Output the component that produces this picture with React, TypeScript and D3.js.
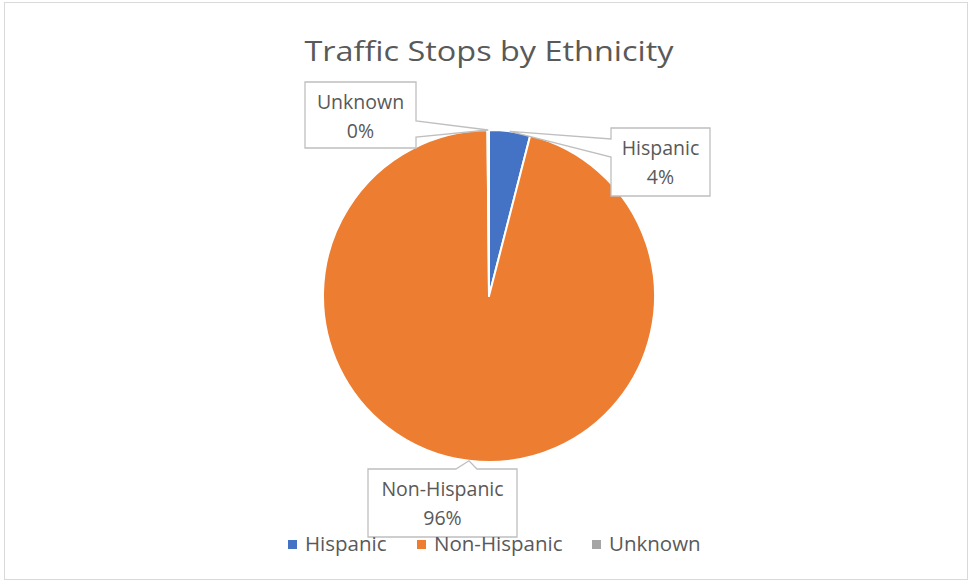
import React from "react";
import * as d3 from "d3";

const categories = ["Hispanic", "Non-Hispanic", "Unknown"];
const values = [4.0, 95.85, 0.15];
const pctLabels = ["4%", "96%", "0%"];
const colors = ["#4472C4", "#ED7D31", "#A5A5A5"];
const title = "Traffic Stops by Ethnicity";

const W = 972;
const H = 583;
const cx = 489;
const cy = 296;
const R = 166;

// label box geometry relative to pie center (layout only)
const labelBoxes = [
  { dx: 171.5, dy: -134, w: 99, h: 68, side: "left" },
  { dx: -46.5, dy: 207, w: 149, h: 68, side: "top" },
  { dx: -128.5, dy: -181, w: 111, h: 66, side: "right" },
];

function calloutPath(x: number, y: number, w: number, h: number, side: string, px: number, py: number) {
  const x2 = x + w, y2 = y + h;
  if (side === "left") {
    const a = y + 11, b = y + 29;
    return `M${x},${y}H${x2}V${y2}H${x}V${b}L${px},${py}L${x},${a}Z`;
  }
  if (side === "right") {
    const a = y + 39, b = y + 55;
    return `M${x},${y}H${x2}V${a}L${px},${py}L${x2},${b}V${y2}H${x}Z`;
  }
  const m = px;
  return `M${x},${y}H${m - 13}L${px},${py}L${m + 8},${y}H${x2}V${y2}H${x}Z`;
}

export default function App() {
  const pie = d3.pie<number>().sort(null).value((d) => d);
  const arcs = pie(values);
  const arc = d3.arc<d3.PieArcDatum<number>>().innerRadius(0).outerRadius(R);

  const legendX = [288, 417, 592];

  return (
    <svg
      width={W}
      height={H}
      style={{ position: "absolute", left: 0, top: 0, fontFamily: "'Open Sans', sans-serif" }}
    >
      <rect x={0} y={0} width={W} height={H} fill="#fff" />
      <rect x={4.5} y={2.5} width={963} height={577} fill="#fff" stroke="#d9d9d9" strokeWidth={1} />
      <text
        x={cx}
        y={61}
        textAnchor="middle"
        fontSize={27}
        fill="#595959"
        textLength={369}
        lengthAdjust="spacingAndGlyphs"
      >
        {title}
      </text>
      <g transform={`translate(${cx},${cy})`}>
        {arcs.map((a, i) => (
          <path key={i} d={arc(a) || ""} fill={colors[i]} stroke="#fff" strokeWidth={2} strokeLinejoin="round" />
        ))}
      </g>
      {arcs.map((a, i) => {
        const mid = (a.startAngle + a.endAngle) / 2;
        const px = cx + Math.sin(mid) * R;
        const py = cy - Math.cos(mid) * R;
        const b = labelBoxes[i];
        const bx = cx + b.dx - b.w / 2;
        const by = cy + b.dy - b.h / 2;
        return (
          <g key={"l" + i}>
            <path
              d={calloutPath(bx, by, b.w, b.h, b.side, px, py)}
              fill="#fff"
              stroke="#bfbfbf"
              strokeWidth={1.3}
            />
            <text x={bx + b.w / 2} y={by + 27} textAnchor="middle" fontSize={19.5} fill="#595959">
              {categories[i]}
            </text>
            <text x={bx + b.w / 2} y={by + 56} textAnchor="middle" fontSize={19.5} fill="#595959">
              {pctLabels[i]}
            </text>
          </g>
        );
      })}
      {categories.map((c, i) => (
        <g key={"lg" + i}>
          <rect x={legendX[i]} y={540} width={9} height={9} fill={colors[i]} />
          <text x={legendX[i] + 17} y={551} fontSize={20.5} fill="#595959">
            {c}
          </text>
        </g>
      ))}
    </svg>
  );
}
